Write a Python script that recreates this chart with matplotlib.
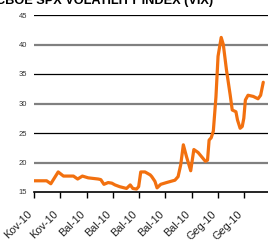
import matplotlib
matplotlib.use("Agg")
import matplotlib.pyplot as plt

# VIX (x = trading day index, ticks every 5 days)
days = [0.0, 2.4, 3.2, 4.6, 5.6, 7.5, 8.3, 9.2, 10.3, 12.2, 12.7, 13.3, 14.1, 14.8,
        15.4, 16.3, 17.6, 18.3, 18.8, 19.5, 19.9, 20.3, 21.1, 22.1, 22.4, 23.0, 23.4,
        24.1, 25.2, 26.8, 27.4, 27.9, 28.4, 29.0, 29.8, 30.4, 31.2, 32.6, 33.0, 33.3,
        33.7, 34.1, 34.6, 35.0, 35.6, 36.0, 36.6, 37.3, 37.7, 38.4, 38.7, 39.2, 39.6,
        39.9, 40.2, 40.7, 41.7, 42.6, 43.1, 43.6]
vix = [16.9, 16.9, 16.4, 18.4, 17.7, 17.7, 17.2, 17.7, 17.4, 17.2, 17.1, 16.3, 16.6, 16.5,
       16.2, 15.9, 15.6, 16.2, 15.6, 15.5, 15.9, 18.4, 18.4, 17.9, 17.6, 16.8, 15.7,
       16.3, 16.6, 17.0, 17.6, 19.6, 23.0, 21.0, 18.6, 22.2, 21.7, 20.2, 20.4, 23.8,
       24.2, 25.3, 31.1, 38.0, 41.2, 40.0, 35.7, 31.5, 28.9, 28.6, 27.2, 25.8, 26.1,
       27.5, 30.6, 31.4, 31.2, 30.8, 31.4, 33.6]

tick_pos = [0, 5, 10, 15, 20, 25, 30, 35, 40]
tick_labels = ["Kov-10", "Kov-10", "Bal-10", "Bal-10", "Bal-10",
               "Bal-10", "Bal-10", "Geg-10", "Geg-10"]
y_ticks = [15, 20, 25, 30, 35, 40, 45]

fig = plt.figure(figsize=(2.68, 2.42), dpi=100)
ax = fig.add_axes([34 / 268, 50 / 242, 234 / 268, 177 / 242])

# alternating grid: gray at 20/30/40, black at 25/35/45
for v in y_ticks[1:]:
    if v % 10 == 0:
        ax.axhline(v, color="#808080", lw=1.6, zorder=1)
    else:
        ax.axhline(v, color="black", lw=0.9, zorder=1)

ax.plot(days, vix, color="#f2700f", lw=2.3, solid_joinstyle="round",
        solid_capstyle="round", zorder=3)

ax.set_xlim(0, 44.5)
ax.set_ylim(15, 45)
ax.set_yticks(y_ticks)
ax.set_yticklabels([str(v) for v in y_ticks], fontsize=5.5, color="#333333",
                   family="Liberation Sans")
ax.tick_params(axis="y", length=0, pad=5)
ax.set_xticks(tick_pos)
ax.set_xticklabels(tick_labels, rotation=45, ha="right",
                   fontsize=7.8, color="#222222", family="Liberation Sans")
ax.tick_params(axis="x", length=4, width=1, color="black", pad=8, direction="out")

for s in ["top", "right", "left"]:
    ax.spines[s].set_visible(False)
ax.spines["bottom"].set_linewidth(1.2)
ax.spines["bottom"].set_zorder(2)

fig.text(-0.015, 0.995, "CBOE SPX VOLATILITY INDEX (VIX)", fontsize=9.2, fontweight="bold",
         family="Liberation Sans", ha="left", va="center")

fig.savefig("out.png", dpi=100)
